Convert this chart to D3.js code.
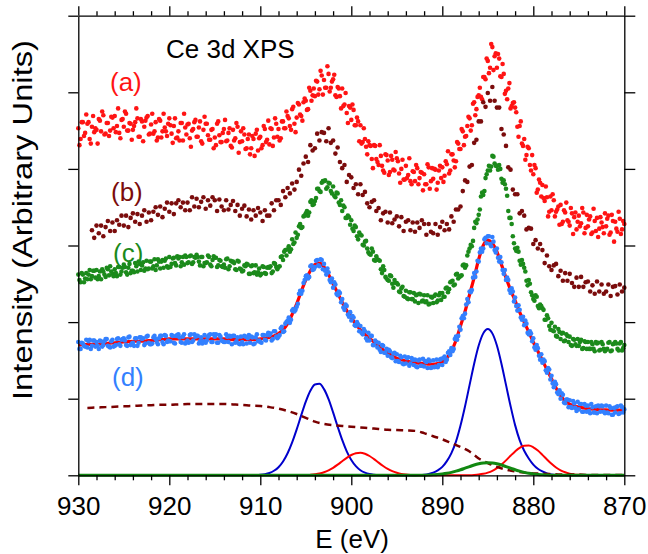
<!DOCTYPE html>
<html><head><meta charset="utf-8">
<script src="https://cdn.jsdelivr.net/npm/d3@7"></script>
<style>html,body{margin:0;padding:0;background:#fff;} svg{display:block;font-family:"Liberation Sans",Arial,Helvetica,sans-serif;}</style>
</head><body><svg id="chart" width="648" height="554"></svg>
<script>
// ---------- DATA ----------
const xTicks = [930, 920, 910, 900, 890, 880, 870];
const yTicks = [0, 100, 200, 300, 400, 500, 600];
const seriesNames = ["(a)", "(b)", "(c)", "(d)"];
const title = "Ce 3d XPS";
const xTitle = "E (eV)";
const yTitle = "Intensity (Arbitrary Units)";

// measured spectra, energy step 0.25 eV; second arrays are the interleaved channels (start - 0.125 eV)
const eStep = 0.25;
const aStart = 930, aStart2 = 929.875, bStart = 928.5, cStart = 930, cStart2 = 929.875, dStart = 930, dStart2 = 929.875;
const aValues = [
453,439,461,447,459,439,455,448,451,465,449,470,446,460,450,467,469,456,447,464,
455,472,450,459,451,461,466,442,462,455,467,445,458,446,461,441,463,449,454,443,
466,446,456,440,449,460,437,454,458,440,450,461,442,454,436,451,459,444,438,452,
441,459,444,435,452,436,447,430,451,440,455,435,436,445,427,445,427,439,446,424,
442,431,452,438,432,452,441,459,452,440,462,453,469,456,478,459,467,484,469,487,
489,478,502,496,495,514,504,522,516,506,524,506,517,496,507,495,505,484,473,482,
464,477,457,462,457,435,439,419,431,413,431,413,405,417,398,419,411,396,412,398,
414,394,400,386,404,392,384,397,384,401,388,395,393,380,402,384,387,399,382,404,
402,391,406,394,419,411,410,433,426,449,442,456,466,457,487,478,496,494,520,517,
541,532,559,547,532,544,520,524,502,505,479,486,480,455,456,433,439,418,427,398,
393,401,373,382,379,358,363,344,346,359,344,351,353,331,343,333,326,342,337,321,
339,329,343,323,325,338,317,332,336,322,330,316,325,339,317,332,331,318,335,321,
328];
const aValues2 = [
431,461,443,471,461,433,469,453,433,463,475,445,460,443,468,453,448,479,440,465,
475,450,460,438,456,479,442,465,436,463,469,446,472,449,437,465,441,472,449,459,
457,434,466,441,437,460,472,445,459,429,452,464,442,462,433,468,459,438,451,427,
431,462,435,447,464,437,453,428,437,460,421,449,453,426,439,419,443,417,451,440,
427,456,435,463,453,430,466,442,437,462,453,475,466,451,481,448,486,471,463,492,
477,506,489,505,515,497,528,497,506,534,501,514,523,494,505,479,482,499,460,480,
484,457,467,436,433,453,429,436,430,401,430,409,431,404,395,418,392,417,399,422,
410,382,412,386,388,414,380,396,405,380,396,372,380,406,374,401,400,373,398,388,
383,410,423,398,419,402,435,426,452,431,443,468,450,485,470,494,506,491,520,544,
525,563,529,551,550,521,537,498,491,512,482,487,474,442,462,430,412,429,405,418,
405,369,386,364,362,377,338,364,367,338,347,327,328,346,356,331,349,315,343,331,
325,349,316,340,334,315,348,319,311,337,324,342,335,314,340,305,322,344,315,332];
const bValues = [
320,310,
326,316,326,312,324,332,319,330,319,333,327,339,326,339,324,336,342,331,341,328,
339,346,331,343,333,344,350,340,351,337,348,356,344,355,341,355,359,350,356,346,
356,346,363,351,361,350,357,363,348,359,352,363,359,345,360,351,346,359,347,353,
358,345,353,339,348,352,338,347,334,346,339,349,343,332,346,339,339,355,346,359,
359,353,371,363,375,368,381,373,383,399,391,407,416,409,431,424,427,446,437,448,
447,436,453,434,437,420,428,409,401,405,383,392,389,375,380,367,380,366,370,355,
350,357,359,345,349,333,342,344,330,343,329,334,338,325,337,319,331,333,320,330,
318,330,323,333,328,314,328,318,316,328,314,324,331,320,328,321,338,331,347,347,
351,371,385,383,403,405,434,438,462,462,487,481,499,489,507,489,480,480,452,445,
430,402,399,373,367,367,342,345,339,321,323,322,302,307,296,302,294,277,287,273,
268,274,276,260,267,254,264,254,263,251,246,258,246,259,246,252,253,240,248,237,
253,240,249,237,240,249,234,246,247,236,249,240,
245];
const cValues = [
262,252,262,257,256,268,260,267,268,260,256,266,259,269,273,263,269,260,272,266,
275,265,271,264,267,277,266,276,274,267,280,270,279,273,268,282,270,281,280,273,
285,276,284,274,283,273,285,287,277,286,276,285,288,279,285,273,277,287,275,281,
284,272,281,273,275,282,269,280,279,269,280,270,266,274,276,263,273,264,274,265,
261,273,264,271,271,264,277,272,272,285,281,294,295,292,308,304,310,325,323,338,
342,339,357,353,358,374,371,382,384,374,382,371,377,363,368,353,345,350,336,337,
333,319,324,308,314,301,305,296,289,296,281,286,281,269,273,259,255,261,250,255,
251,240,244,234,241,230,239,230,227,236,237,227,235,227,223,233,225,236,228,238,
238,233,245,243,253,248,262,257,260,274,271,287,296,299,323,329,340,364,366,388,
398,398,417,407,404,405,387,385,374,345,336,312,296,297,280,281,271,254,255,239,
230,235,221,223,218,203,209,195,199,188,182,191,178,186,176,182,181,169,177,169,
169,177,166,174,174,165,171,162,172,163,174,165,164,173,162,171,174,165,172,163,
170];
const cValues2 = [
255,264,252,264,262,256,267,258,256,266,269,262,271,261,266,260,264,272,262,271,
272,262,276,267,265,273,279,268,278,270,269,279,270,282,274,279,279,271,283,271,
272,283,277,286,285,278,275,285,278,287,278,284,285,274,285,277,278,285,273,286,
284,274,280,272,271,283,273,279,277,268,279,269,267,273,275,263,274,265,262,270,
263,272,263,272,273,266,276,269,273,286,292,287,299,295,302,317,314,328,324,339,
345,343,359,354,362,374,370,384,385,376,381,368,365,369,356,359,352,336,339,327,
322,326,312,317,313,300,306,291,288,292,280,282,280,264,268,257,254,260,245,251,
249,239,246,233,231,239,230,238,235,225,236,228,226,235,224,232,234,226,235,229,
233,244,239,252,254,249,263,259,261,275,274,292,301,306,331,334,347,369,371,393,
404,403,416,404,399,400,382,380,365,336,328,303,293,292,275,276,266,248,250,235,
228,233,218,221,216,203,205,190,189,194,181,187,185,175,184,174,170,178,171,178,
174,165,175,165,165,174,165,174,173,164,171,162,165,174,163,172,172,163,174,166];
const dValues = [
174,165,172,168,167,177,169,176,174,165,175,170,178,169,167,177,169,178,171,177,
179,170,180,170,173,179,169,180,178,170,181,173,171,180,178,171,182,174,183,174,
175,183,173,182,184,174,181,172,176,183,174,184,182,172,180,175,173,181,184,174,
181,173,183,176,174,184,174,181,182,173,180,171,174,182,172,183,181,171,180,175,
174,183,177,183,183,176,188,181,181,192,187,198,202,199,215,214,220,237,237,251,
260,257,273,268,272,281,273,281,276,262,265,252,245,249,235,238,230,216,221,207,
202,206,195,197,195,184,188,176,176,182,170,174,173,161,169,160,156,162,153,160,
158,148,154,145,146,154,146,151,151,141,151,143,142,148,151,140,150,142,141,151,
144,155,151,162,166,165,181,182,190,208,211,230,240,242,264,266,279,296,296,310,
312,302,311,294,296,279,278,263,255,255,238,240,232,215,216,203,196,198,184,185,
179,164,166,151,147,149,134,138,130,115,119,106,100,105,94,99,98,88,94,84,
86,93,83,91,91,81,89,82,81,90,91,83,91,81,88,79,82,90,81,89,
86];
const dValues2 = [
165,173,169,177,175,165,176,168,169,176,168,175,178,168,175,168,170,179,169,178,
176,169,181,172,169,179,173,180,179,172,182,171,172,182,174,179,182,171,182,176,
175,182,172,183,180,173,184,174,173,184,176,181,182,175,172,183,176,183,174,184,
184,173,181,175,174,181,182,171,182,175,172,181,171,181,179,173,180,172,184,176,
173,183,176,186,185,178,188,179,183,194,188,200,206,203,217,216,224,241,241,255,
261,259,274,269,280,274,282,269,267,270,255,257,252,237,240,226,219,223,210,213,
208,196,200,188,186,191,179,186,182,170,176,167,164,170,160,165,164,154,159,149,
149,156,146,155,153,143,153,144,142,150,143,152,149,140,149,141,141,151,144,152,
153,148,160,157,162,178,177,194,205,205,223,226,239,258,259,280,291,292,308,303,
312,299,305,291,284,285,268,268,258,242,244,227,221,222,206,207,202,186,188,175,
167,170,156,158,151,137,140,125,120,122,108,111,107,95,99,89,89,97,88,96,
93,83,93,83,84,93,82,90,91,83,90,81,82,90,79,88,89,80,91,82];

// fit envelope for (d), 0.5 eV step from 930
const fitStep = 0.5, fitStart = 930;
const fitValues = [
170,170.5,171,171,171,171.5,172,172.5,173,173.5,174,174.5,175,175,175,175.5,176,176.5,177,177.5,
178,178,178,178,178,178,178,178,178,178,178,178,178,177.5,177,177,177,177,177,177.5,
178,179,180,182,185,190,198,210,224,240,255,267,275,277,272,262,250,238,226,215,
206,197,190,184,179,174,169,164,160,156,153,151,149,148,147,146,146,145,145,146,
148,153,162,176,195,214,236,258,282,300,307,303,292,275,258,242,228,213,200,187,
174,162,150,138,126,114,104,97,93,91,89,88,87,86.5,86,85.5,85.5,85,85,85,
85];

// fitted components, 0.5 eV step
const compStep = 0.5;
const blueStart = 911;
const blueValues = [
0.1,0.3,0.7,1.5,3.0,5.9,10.6,18.1,28.8,43.0,60.0,78.5,96.1,110.3,118.6,119.4,112.5,99.4,82.1,63.6,
46.2,31.3,19.9,11.9,6.6,3.5,1.7,0.8,0.3,0.1,0,0,0,0,0,0,0.1,0.3,0.8,1.8,
3.5,6.5,11,18.5,29,44,65,90.2,118.0,145.7,169.4,185.3,191,185.3,169.4,145.7,118.0,90.5,65.5,46,
32,22,14,8.5,5,2.5,1.2,0.5,0.2,0,0,0,0,0,0,0,0,0];
const redStart = 904.5;
const redValues = [
0.6,1.3,2.3,4.0,6.5,9.8,13.9,18.4,22.8,26.5,28.9,29.5,28.1,25.2,21.1,16.5,12.2,8.4,5.4,3.3,
1.8,1.0,0.5,0.2,0.1,0,0,0,0,0,0,0,0,0,0.1,0.2,0.5,1.0,1.9,3.5,
5.9,9.4,14.0,19.5,25.5,31.2,35.9,38.5,38.8,36.6,32.3,26.7,20.7,15.0,10.2,6.5,3.9,2.2,1.1,0.6,
0.2,0.1,0];
const greenE = [930,893,892.5,892,891.5,891,890.5,890,889.5,889,888.5,888,887.5,887,886.5,886,885.5,885,
884.5,884,883.5,883,882.5,882,881.5,881,880.5,880,879.5,879,878.5,878,877.5,877,870];
const greenValues = [0,0,0.1,0.2,0.3,0.6,1.0,1.7,2.6,3.8,5.4,7.2,9.3,11.4,13.4,15.0,16.1,16.5,
16.1,15.0,13.4,11.4,9.3,7.2,5.4,3.8,2.6,1.7,1.0,0.6,0.3,0.2,0.1,0,0];
// background (Shirley), 1 eV step
const bgStart = 929, bgStep = 1;
const bgValues = [
88,88.5,89,89.5,90,90.5,91,91.5,92,92,
92.5,93,93,93,93,93,92.5,92,91,90.5,
89,87,84,80,75,70,67,65.5,64.5,63.5,
62.5,61.5,60.5,59.5,59,58.5,58,55,51,47,
42,37,31,22,16,11,7.5,5,3.5,2.5,
2,1.5,1,1,1,0.5,0.5,0.5,0.5,0.5];

// ---------- DRAW ----------
const colors = {a:"#ff1414", b:"#7b0c0c", c:"#1b8a1b", d:"#3380ff"};
const svg = d3.select("#chart");
const x = d3.scaleLinear().domain([930, 870]).range([78.3, 624.3]);
const y = d3.scaleLinear().domain([0, 600]).range([475.3, 15.7]);

const toPts = (vals, start, st) => vals.map((v, i) => ({e: start - st * i, v}));
const line = d3.line().x(d => x(d.e)).y(d => y(d.v)).curve(d3.curveMonotoneX);

// components
svg.append("path").datum(toPts(blueValues, blueStart, compStep)).attr("d", line)
  .attr("fill", "none").attr("stroke", "#0000cc").attr("stroke-width", 2);
svg.append("path").datum(toPts(redValues, redStart, compStep)).attr("d", line)
  .attr("fill", "none").attr("stroke", "#ff0000").attr("stroke-width", 2);
svg.append("path").datum(toPts(bgValues, bgStart, bgStep)).attr("d", line)
  .attr("fill", "none").attr("stroke", "#7a0000").attr("stroke-width", 2.5)
  .attr("stroke-dasharray", "7,5");
svg.append("path").datum(greenE.map((e, i) => ({e, v: greenValues[i]}))).attr("d", line)
  .attr("fill", "none").attr("stroke", "#118811").attr("stroke-width", 3);

// spectra
function dots(vals, start, color) {
  svg.append("g").selectAll("circle").data(toPts(vals, start, eStep)).join("circle")
    .attr("cx", d => x(d.e)).attr("cy", d => y(d.v)).attr("r", 2.3).attr("fill", color);
}
dots(aValues, aStart, colors.a);
dots(aValues2, aStart2, colors.a);
dots(bValues, bStart, colors.b);
dots(cValues, cStart, colors.c);
dots(cValues2, cStart2, colors.c);
svg.append("path").datum(toPts(fitValues, fitStart, fitStep)).attr("d", line)
  .attr("fill", "none").attr("stroke", "#ff0000").attr("stroke-width", 3.2);
dots(dValues, dStart, colors.d);
dots(dValues2, dStart2, colors.d);

// axes
const minorX = d3.range(930, 869, -2).filter(v => v % 10 !== 0);
function styleAxis(g) {
  g.selectAll("path,line").attr("stroke", "#000").attr("stroke-width", 1.3);
}
svg.append("g").attr("transform", `translate(0,${y(0)})`)
  .call(d3.axisBottom(x).tickValues(minorX).tickSize(5).tickSizeOuter(0).tickFormat(""))
  .call(g => g.select(".domain").remove()).call(styleAxis);
svg.append("g").attr("transform", `translate(0,${y(600)})`)
  .call(d3.axisTop(x).tickValues(minorX).tickSize(4.5).tickSizeOuter(0).tickFormat(""))
  .call(g => g.select(".domain").remove()).call(styleAxis);
const xb = svg.append("g").attr("transform", `translate(0,${y(0)})`)
  .call(d3.axisBottom(x).tickValues(xTicks).tickSize(10).tickSizeOuter(0).tickPadding(11)
    .tickFormat(d3.format("d")))
  .call(styleAxis);
xb.selectAll("text").attr("font-size", 26).attr("fill", "#000")
  .attr("font-family", "'Liberation Sans', Arial, sans-serif");
svg.append("g").attr("transform", `translate(0,${y(600)})`)
  .call(d3.axisTop(x).tickValues(xTicks).tickSize(9.5).tickSizeOuter(0).tickFormat(""))
  .call(styleAxis);
svg.append("g").attr("transform", `translate(${x(930)},0)`)
  .call(d3.axisLeft(y).tickValues(yTicks).tickSize(10).tickSizeOuter(0).tickFormat(""))
  .call(styleAxis);
svg.append("g").attr("transform", `translate(${x(870)},0)`)
  .call(d3.axisRight(y).tickValues(yTicks).tickSize(11).tickSizeOuter(0).tickFormat(""))
  .call(styleAxis);

// titles
svg.append("text").attr("x", 352).attr("y", 548).attr("text-anchor", "middle")
  .attr("font-size", 26).attr("fill", "#000").text(xTitle);
svg.append("text").attr("transform", "translate(32,220) rotate(-90)").attr("text-anchor", "middle")
  .attr("font-size", 27).attr("fill", "#000")
  .attr("textLength", 360).attr("lengthAdjust", "spacingAndGlyphs").text(yTitle);
svg.append("text").attr("x", 166).attr("y", 58).attr("font-size", 26).attr("fill", "#000").text(title);

const labelPos = [[110, 91, colors.a], [111, 201, colors.b], [113, 262, colors.c], [112, 386, colors.d]];
seriesNames.forEach((s, i) => {
  svg.append("text").attr("x", labelPos[i][0]).attr("y", labelPos[i][1])
    .attr("font-size", 26).attr("fill", labelPos[i][2]).text(s);
});
</script>
</body></html>
